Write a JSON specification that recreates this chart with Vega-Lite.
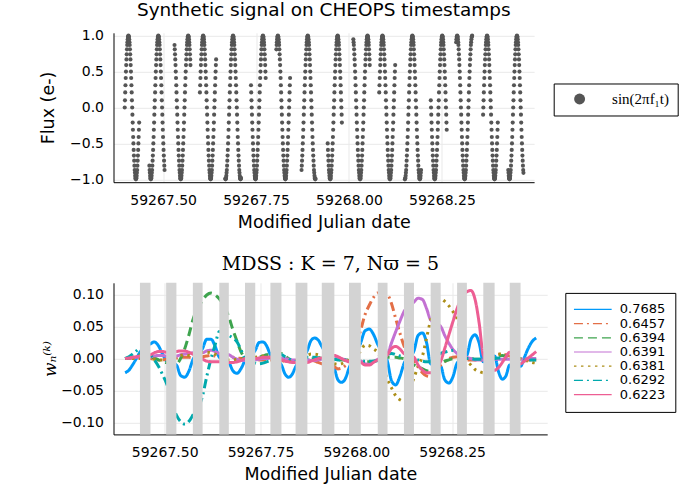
{
  "$schema": "https://vega.github.io/schema/vega-lite/v6.json",
  "padding": {"left": 39.5, "top": 0.8, "right": 5, "bottom": 5},
  "spacing": 24,
  "resolve": {"scale": {"color": "independent", "strokeDash": "independent", "x": "independent", "y": "independent"}, "legend": {"color": "independent", "strokeDash": "independent"}},
  "config": {
    "font": "DejaVu Sans",
    "view": {"stroke": null},
    "axis": {"grid": true, "gridColor": "#e9e9e9", "domainColor": "#000000", "ticks": false, "labelFontSize": 14, "labelColor": "#000000", "labelPadding": 10, "labelFlush": false, "titleFontSize": 17.5, "titleFontWeight": "normal", "titleColor": "#000000"},
    "axisX": {"titlePadding": 6, "labelPadding": 11},
    "title": {"fontWeight": "normal", "color": "#000000", "offset": 9}
  },
  "vconcat": [
    {
      "width": 420.6,
      "height": 149.4,
      "title": {"text": "Synthetic signal on CHEOPS timestamps", "fontSize": 18.5},
      "data": {"values": [
{"t":59267.39665,"y":0},{"t":59267.39732,"y":0.1},{"t":59267.39799,"y":0.21},{"t":59267.39866,"y":0.31},{"t":59267.39933,"y":0.41},{"t":59267.40000,"y":0.5},{"t":59267.40067,"y":0.59},{"t":59267.40134,"y":0.67},{"t":59267.40201,"y":0.74},{"t":59267.40268,"y":0.81},{"t":59267.40335,"y":0.87},{"t":59267.40402,"y":0.91},{"t":59267.40469,"y":0.95},{"t":59267.40536,"y":0.98},{"t":59267.40603,"y":0.99},{"t":59267.40670,"y":1},{"t":59267.40737,"y":0.99},{"t":59267.40804,"y":0.98},{"t":59267.40871,"y":0.95},{"t":59267.40938,"y":0.91},{"t":59267.41005,"y":0.87},{"t":59267.41072,"y":0.81},{"t":59267.41139,"y":0.74},{"t":59267.41206,"y":0.67},{"t":59267.41273,"y":0.59},{"t":59267.41340,"y":0.5},{"t":59267.41407,"y":0.41},{"t":59267.41474,"y":0.31},{"t":59267.41541,"y":0.21},{"t":59267.41608,"y":0.1},{"t":59267.41675,"y":0},{"t":59267.41742,"y":-0.1},{"t":59267.41809,"y":-0.21},{"t":59267.41876,"y":-0.31},{"t":59267.41943,"y":-0.41},{"t":59267.42010,"y":-0.5},{"t":59267.42077,"y":-0.59},{"t":59267.42144,"y":-0.67},{"t":59267.42211,"y":-0.74},{"t":59267.42278,"y":-0.81},{"t":59267.42345,"y":-0.87},{"t":59267.42412,"y":-0.91},{"t":59267.42479,"y":-0.95},{"t":59267.42546,"y":-0.98},{"t":59267.42613,"y":-0.99},{"t":59267.42680,"y":-1},{"t":59267.42747,"y":-0.99},{"t":59267.42814,"y":-0.98},{"t":59267.42881,"y":-0.95},{"t":59267.42948,"y":-0.91},{"t":59267.43015,"y":-0.87},{"t":59267.43082,"y":-0.81},{"t":59267.43149,"y":-0.74},{"t":59267.43216,"y":-0.67},{"t":59267.43283,"y":-0.59},{"t":59267.43350,"y":-0.5},{"t":59267.43417,"y":-0.41},{"t":59267.43484,"y":-0.31},{"t":59267.43551,"y":-0.21},
{"t":59267.46298,"y":-0.81},{"t":59267.46365,"y":-0.87},{"t":59267.46432,"y":-0.91},{"t":59267.46499,"y":-0.95},{"t":59267.46566,"y":-0.98},{"t":59267.46633,"y":-0.99},{"t":59267.46700,"y":-1},{"t":59267.46767,"y":-0.99},{"t":59267.46834,"y":-0.98},{"t":59267.46901,"y":-0.95},{"t":59267.46968,"y":-0.91},{"t":59267.47035,"y":-0.87},{"t":59267.47102,"y":-0.81},{"t":59267.47169,"y":-0.74},{"t":59267.47236,"y":-0.67},{"t":59267.47303,"y":-0.59},{"t":59267.47370,"y":-0.5},{"t":59267.47437,"y":-0.41},{"t":59267.47504,"y":-0.31},{"t":59267.47571,"y":-0.21},{"t":59267.47638,"y":-0.1},{"t":59267.47705,"y":0},{"t":59267.47772,"y":0.1},{"t":59267.47839,"y":0.21},{"t":59267.47906,"y":0.31},{"t":59267.47973,"y":0.41},{"t":59267.48040,"y":0.5},{"t":59267.48107,"y":0.59},{"t":59267.48174,"y":0.67},{"t":59267.48241,"y":0.74},{"t":59267.48308,"y":0.81},{"t":59267.48375,"y":0.87},{"t":59267.48442,"y":0.91},{"t":59267.48509,"y":0.95},{"t":59267.48576,"y":0.98},{"t":59267.48643,"y":0.99},{"t":59267.48710,"y":1},{"t":59267.48777,"y":0.99},{"t":59267.48844,"y":0.98},{"t":59267.48911,"y":0.95},{"t":59267.48978,"y":0.91},{"t":59267.49045,"y":0.87},{"t":59267.49112,"y":0.81},{"t":59267.49179,"y":0.74},{"t":59267.49246,"y":0.67},{"t":59267.49313,"y":0.59},{"t":59267.49380,"y":0.5},{"t":59267.49447,"y":0.41},{"t":59267.49514,"y":0.31},{"t":59267.49581,"y":0.21},{"t":59267.49648,"y":0.1},{"t":59267.49715,"y":0},{"t":59267.49782,"y":-0.1},{"t":59267.49849,"y":-0.21},{"t":59267.49916,"y":-0.31},{"t":59267.49983,"y":-0.41},{"t":59267.50050,"y":-0.5},{"t":59267.50117,"y":-0.59},{"t":59267.50184,"y":-0.67},{"t":59267.50251,"y":-0.74},{"t":59267.50318,"y":-0.81},{"t":59267.50385,"y":-0.87},
{"t":59267.53065,"y":0.87},{"t":59267.53132,"y":0.81},{"t":59267.53199,"y":0.74},{"t":59267.53266,"y":0.67},{"t":59267.53333,"y":0.59},{"t":59267.53400,"y":0.5},{"t":59267.53467,"y":0.41},{"t":59267.53534,"y":0.31},{"t":59267.53601,"y":0.21},{"t":59267.53668,"y":0.1},{"t":59267.53735,"y":0},{"t":59267.53802,"y":-0.1},{"t":59267.53869,"y":-0.21},{"t":59267.53936,"y":-0.31},{"t":59267.54003,"y":-0.41},{"t":59267.54070,"y":-0.5},{"t":59267.54137,"y":-0.59},{"t":59267.54204,"y":-0.67},{"t":59267.54271,"y":-0.74},{"t":59267.54338,"y":-0.81},{"t":59267.54405,"y":-0.87},{"t":59267.54472,"y":-0.91},{"t":59267.54539,"y":-0.95},{"t":59267.54606,"y":-0.98},{"t":59267.54673,"y":-0.99},{"t":59267.54740,"y":-1},{"t":59267.54807,"y":-0.99},{"t":59267.54874,"y":-0.98},{"t":59267.54941,"y":-0.95},{"t":59267.55008,"y":-0.91},{"t":59267.55075,"y":-0.87},{"t":59267.55142,"y":-0.81},{"t":59267.55209,"y":-0.74},{"t":59267.55276,"y":-0.67},{"t":59267.55343,"y":-0.59},{"t":59267.55410,"y":-0.5},{"t":59267.55477,"y":-0.41},{"t":59267.55544,"y":-0.31},{"t":59267.55611,"y":-0.21},{"t":59267.55678,"y":-0.1},{"t":59267.55745,"y":0},{"t":59267.55812,"y":0.1},{"t":59267.55879,"y":0.21},{"t":59267.55946,"y":0.31},{"t":59267.56013,"y":0.41},{"t":59267.56080,"y":0.5},{"t":59267.56147,"y":0.59},{"t":59267.56214,"y":0.67},{"t":59267.56281,"y":0.74},{"t":59267.56348,"y":0.81},{"t":59267.56415,"y":0.87},{"t":59267.56482,"y":0.91},{"t":59267.56549,"y":0.95},{"t":59267.56616,"y":0.98},{"t":59267.56683,"y":0.99},{"t":59267.56750,"y":1},{"t":59267.56817,"y":0.99},{"t":59267.56884,"y":0.98},{"t":59267.56951,"y":0.95},{"t":59267.57018,"y":0.91},{"t":59267.57085,"y":0.87},{"t":59267.57152,"y":0.81},{"t":59267.57219,"y":0.74},{"t":59267.57286,"y":0.67},{"t":59267.57353,"y":0.59},
{"t":59267.59899,"y":0.21},{"t":59267.59966,"y":0.31},{"t":59267.60033,"y":0.41},{"t":59267.60100,"y":0.5},{"t":59267.60167,"y":0.59},{"t":59267.60234,"y":0.67},{"t":59267.60301,"y":0.74},{"t":59267.60368,"y":0.81},{"t":59267.60435,"y":0.87},{"t":59267.60502,"y":0.91},{"t":59267.60569,"y":0.95},{"t":59267.60636,"y":0.98},{"t":59267.60703,"y":0.99},{"t":59267.60770,"y":1},{"t":59267.60837,"y":0.99},{"t":59267.60904,"y":0.98},{"t":59267.60971,"y":0.95},{"t":59267.61038,"y":0.91},{"t":59267.61105,"y":0.87},{"t":59267.61172,"y":0.81},{"t":59267.61239,"y":0.74},{"t":59267.61306,"y":0.67},{"t":59267.61373,"y":0.59},{"t":59267.61440,"y":0.5},{"t":59267.61507,"y":0.41},{"t":59267.61574,"y":0.31},{"t":59267.61641,"y":0.21},{"t":59267.61708,"y":0.1},{"t":59267.61775,"y":0},{"t":59267.61842,"y":-0.1},{"t":59267.61909,"y":-0.21},{"t":59267.61976,"y":-0.31},{"t":59267.62043,"y":-0.41},{"t":59267.62110,"y":-0.5},{"t":59267.62177,"y":-0.59},{"t":59267.62244,"y":-0.67},{"t":59267.62311,"y":-0.74},{"t":59267.62378,"y":-0.81},{"t":59267.62445,"y":-0.87},{"t":59267.62512,"y":-0.91},{"t":59267.62579,"y":-0.95},{"t":59267.62646,"y":-0.98},{"t":59267.62713,"y":-0.99},{"t":59267.62780,"y":-1},{"t":59267.62847,"y":-0.99},{"t":59267.62914,"y":-0.98},{"t":59267.62981,"y":-0.95},{"t":59267.63048,"y":-0.91},{"t":59267.63115,"y":-0.87},{"t":59267.63182,"y":-0.81},{"t":59267.63249,"y":-0.74},{"t":59267.63316,"y":-0.67},{"t":59267.63383,"y":-0.59},{"t":59267.63450,"y":-0.5},{"t":59267.63517,"y":-0.41},{"t":59267.63584,"y":-0.31},{"t":59267.63651,"y":-0.21},{"t":59267.63718,"y":-0.1},{"t":59267.63785,"y":0},{"t":59267.63852,"y":0.1},{"t":59267.63919,"y":0.21},{"t":59267.63986,"y":0.31},{"t":59267.64053,"y":0.41},{"t":59267.64120,"y":0.5},{"t":59267.64187,"y":0.59},{"t":59267.64254,"y":0.67},
{"t":59267.66733,"y":-0.99},{"t":59267.66800,"y":-1},{"t":59267.66867,"y":-0.99},{"t":59267.66934,"y":-0.98},{"t":59267.67001,"y":-0.95},{"t":59267.67068,"y":-0.91},{"t":59267.67135,"y":-0.87},{"t":59267.67202,"y":-0.81},{"t":59267.67269,"y":-0.74},{"t":59267.67336,"y":-0.67},{"t":59267.67403,"y":-0.59},{"t":59267.67470,"y":-0.5},{"t":59267.67537,"y":-0.41},{"t":59267.67604,"y":-0.31},{"t":59267.67671,"y":-0.21},{"t":59267.67738,"y":-0.1},{"t":59267.67805,"y":0},{"t":59267.67872,"y":0.1},{"t":59267.67939,"y":0.21},{"t":59267.68006,"y":0.31},{"t":59267.68073,"y":0.41},{"t":59267.68140,"y":0.5},{"t":59267.68207,"y":0.59},{"t":59267.68274,"y":0.67},{"t":59267.68341,"y":0.74},{"t":59267.68408,"y":0.81},{"t":59267.68475,"y":0.87},{"t":59267.68542,"y":0.91},{"t":59267.68609,"y":0.95},{"t":59267.68676,"y":0.98},{"t":59267.68743,"y":0.99},{"t":59267.68810,"y":1},{"t":59267.68877,"y":0.99},{"t":59267.68944,"y":0.98},{"t":59267.69011,"y":0.95},{"t":59267.69078,"y":0.91},{"t":59267.69145,"y":0.87},{"t":59267.69212,"y":0.81},{"t":59267.69279,"y":0.74},{"t":59267.69346,"y":0.67},{"t":59267.69413,"y":0.59},{"t":59267.69480,"y":0.5},{"t":59267.69547,"y":0.41},{"t":59267.69614,"y":0.31},{"t":59267.69681,"y":0.21},{"t":59267.69748,"y":0.1},{"t":59267.69815,"y":0},{"t":59267.69882,"y":-0.1},{"t":59267.69949,"y":-0.21},{"t":59267.70016,"y":-0.31},{"t":59267.70083,"y":-0.41},{"t":59267.70150,"y":-0.5},{"t":59267.70217,"y":-0.59},{"t":59267.70284,"y":-0.67},{"t":59267.70351,"y":-0.74},{"t":59267.70418,"y":-0.81},{"t":59267.70485,"y":-0.87},{"t":59267.70552,"y":-0.91},{"t":59267.70619,"y":-0.95},{"t":59267.70686,"y":-0.98},{"t":59267.70753,"y":-0.99},{"t":59267.70820,"y":-1},{"t":59267.70887,"y":-0.99},{"t":59267.70954,"y":-0.98},
{"t":59267.73634,"y":0.31},{"t":59267.73701,"y":0.21},{"t":59267.73768,"y":0.1},{"t":59267.73835,"y":0},{"t":59267.73902,"y":-0.1},{"t":59267.73969,"y":-0.21},{"t":59267.74036,"y":-0.31},{"t":59267.74103,"y":-0.41},{"t":59267.74170,"y":-0.5},{"t":59267.74237,"y":-0.59},{"t":59267.74304,"y":-0.67},{"t":59267.74371,"y":-0.74},{"t":59267.74438,"y":-0.81},{"t":59267.74505,"y":-0.87},{"t":59267.74572,"y":-0.91},{"t":59267.74639,"y":-0.95},{"t":59267.74706,"y":-0.98},{"t":59267.74773,"y":-0.99},{"t":59267.74840,"y":-1},{"t":59267.74907,"y":-0.99},{"t":59267.74974,"y":-0.98},{"t":59267.75041,"y":-0.95},{"t":59267.75108,"y":-0.91},{"t":59267.75175,"y":-0.87},{"t":59267.75242,"y":-0.81},{"t":59267.75309,"y":-0.74},{"t":59267.75376,"y":-0.67},{"t":59267.75443,"y":-0.59},{"t":59267.75510,"y":-0.5},{"t":59267.75577,"y":-0.41},{"t":59267.75644,"y":-0.31},{"t":59267.75711,"y":-0.21},{"t":59267.75778,"y":-0.1},{"t":59267.75845,"y":0},{"t":59267.75912,"y":0.1},{"t":59267.75979,"y":0.21},{"t":59267.76046,"y":0.31},{"t":59267.76113,"y":0.41},{"t":59267.76180,"y":0.5},{"t":59267.76247,"y":0.59},{"t":59267.76314,"y":0.67},{"t":59267.76381,"y":0.74},{"t":59267.76448,"y":0.81},{"t":59267.76515,"y":0.87},{"t":59267.76582,"y":0.91},{"t":59267.76649,"y":0.95},{"t":59267.76716,"y":0.98},{"t":59267.76783,"y":0.99},{"t":59267.76850,"y":1},{"t":59267.76917,"y":0.99},{"t":59267.76984,"y":0.98},{"t":59267.77051,"y":0.95},{"t":59267.77118,"y":0.91},{"t":59267.77185,"y":0.87},{"t":59267.77252,"y":0.81},{"t":59267.77319,"y":0.74},{"t":59267.77386,"y":0.67},{"t":59267.77453,"y":0.59},{"t":59267.77520,"y":0.5},{"t":59267.77587,"y":0.41},
{"t":59267.80468,"y":0.81},{"t":59267.80535,"y":0.87},{"t":59267.80602,"y":0.91},{"t":59267.80669,"y":0.95},{"t":59267.80736,"y":0.98},{"t":59267.80803,"y":0.99},{"t":59267.80870,"y":1},{"t":59267.80937,"y":0.99},{"t":59267.81004,"y":0.98},{"t":59267.81071,"y":0.95},{"t":59267.81138,"y":0.91},{"t":59267.81205,"y":0.87},{"t":59267.81272,"y":0.81},{"t":59267.81339,"y":0.74},{"t":59267.81406,"y":0.67},{"t":59267.81473,"y":0.59},{"t":59267.81540,"y":0.5},{"t":59267.81607,"y":0.41},{"t":59267.81674,"y":0.31},{"t":59267.81741,"y":0.21},{"t":59267.81808,"y":0.1},{"t":59267.81875,"y":0},{"t":59267.81942,"y":-0.1},{"t":59267.82009,"y":-0.21},{"t":59267.82076,"y":-0.31},{"t":59267.82143,"y":-0.41},{"t":59267.82210,"y":-0.5},{"t":59267.82277,"y":-0.59},{"t":59267.82344,"y":-0.67},{"t":59267.82411,"y":-0.74},{"t":59267.82478,"y":-0.81},{"t":59267.82545,"y":-0.87},{"t":59267.82612,"y":-0.91},{"t":59267.82679,"y":-0.95},{"t":59267.82746,"y":-0.98},{"t":59267.82813,"y":-0.99},{"t":59267.82880,"y":-1},{"t":59267.82947,"y":-0.99},{"t":59267.83014,"y":-0.98},{"t":59267.83081,"y":-0.95},{"t":59267.83148,"y":-0.91},{"t":59267.83215,"y":-0.87},{"t":59267.83282,"y":-0.81},{"t":59267.83349,"y":-0.74},{"t":59267.83416,"y":-0.67},{"t":59267.83483,"y":-0.59},{"t":59267.83550,"y":-0.5},{"t":59267.83617,"y":-0.41},{"t":59267.83684,"y":-0.31},{"t":59267.83751,"y":-0.21},{"t":59267.83818,"y":-0.1},{"t":59267.83885,"y":0},{"t":59267.83952,"y":0.1},{"t":59267.84019,"y":0.21},{"t":59267.84086,"y":0.31},{"t":59267.84153,"y":0.41},
{"t":59267.87235,"y":-0.87},{"t":59267.87302,"y":-0.81},{"t":59267.87369,"y":-0.74},{"t":59267.87436,"y":-0.67},{"t":59267.87503,"y":-0.59},{"t":59267.87570,"y":-0.5},{"t":59267.87637,"y":-0.41},{"t":59267.87704,"y":-0.31},{"t":59267.87771,"y":-0.21},{"t":59267.87838,"y":-0.1},{"t":59267.87905,"y":0},{"t":59267.87972,"y":0.1},{"t":59267.88039,"y":0.21},{"t":59267.88106,"y":0.31},{"t":59267.88173,"y":0.41},{"t":59267.88240,"y":0.5},{"t":59267.88307,"y":0.59},{"t":59267.88374,"y":0.67},{"t":59267.88441,"y":0.74},{"t":59267.88508,"y":0.81},{"t":59267.88575,"y":0.87},{"t":59267.88642,"y":0.91},{"t":59267.88709,"y":0.95},{"t":59267.88776,"y":0.98},{"t":59267.88843,"y":0.99},{"t":59267.88910,"y":1},{"t":59267.88977,"y":0.99},{"t":59267.89044,"y":0.98},{"t":59267.89111,"y":0.95},{"t":59267.89178,"y":0.91},{"t":59267.89245,"y":0.87},{"t":59267.89312,"y":0.81},{"t":59267.89379,"y":0.74},{"t":59267.89446,"y":0.67},{"t":59267.89513,"y":0.59},{"t":59267.89580,"y":0.5},{"t":59267.89647,"y":0.41},{"t":59267.89714,"y":0.31},{"t":59267.89781,"y":0.21},{"t":59267.89848,"y":0.1},{"t":59267.89915,"y":0},{"t":59267.89982,"y":-0.1},{"t":59267.90049,"y":-0.21},{"t":59267.90116,"y":-0.31},{"t":59267.90183,"y":-0.41},{"t":59267.90250,"y":-0.5},{"t":59267.90317,"y":-0.59},{"t":59267.90384,"y":-0.67},{"t":59267.90451,"y":-0.74},{"t":59267.90518,"y":-0.81},{"t":59267.90585,"y":-0.87},{"t":59267.90652,"y":-0.91},{"t":59267.90719,"y":-0.95},{"t":59267.90786,"y":-0.98},{"t":59267.90853,"y":-0.99},{"t":59267.90920,"y":-1},{"t":59267.90987,"y":-0.99},
{"t":59267.94270,"y":-0.5},{"t":59267.94337,"y":-0.59},{"t":59267.94404,"y":-0.67},{"t":59267.94471,"y":-0.74},{"t":59267.94538,"y":-0.81},{"t":59267.94605,"y":-0.87},{"t":59267.94672,"y":-0.91},{"t":59267.94739,"y":-0.95},{"t":59267.94806,"y":-0.98},{"t":59267.94873,"y":-0.99},{"t":59267.94940,"y":-1},{"t":59267.95007,"y":-0.99},{"t":59267.95074,"y":-0.98},{"t":59267.95141,"y":-0.95},{"t":59267.95208,"y":-0.91},{"t":59267.95275,"y":-0.87},{"t":59267.95342,"y":-0.81},{"t":59267.95409,"y":-0.74},{"t":59267.95476,"y":-0.67},{"t":59267.95543,"y":-0.59},{"t":59267.95610,"y":-0.5},{"t":59267.95677,"y":-0.41},{"t":59267.95744,"y":-0.31},{"t":59267.95811,"y":-0.21},{"t":59267.95878,"y":-0.1},{"t":59267.95945,"y":0},{"t":59267.96012,"y":0.1},{"t":59267.96079,"y":0.21},{"t":59267.96146,"y":0.31},{"t":59267.96213,"y":0.41},{"t":59267.96280,"y":0.5},{"t":59267.96347,"y":0.59},{"t":59267.96414,"y":0.67},{"t":59267.96481,"y":0.74},{"t":59267.96548,"y":0.81},{"t":59267.96615,"y":0.87},{"t":59267.96682,"y":0.91},{"t":59267.96749,"y":0.95},{"t":59267.96816,"y":0.98},{"t":59267.96883,"y":0.99},{"t":59267.96950,"y":1},{"t":59267.97017,"y":0.99},{"t":59267.97084,"y":0.98},{"t":59267.97151,"y":0.95},{"t":59267.97218,"y":0.91},{"t":59267.97285,"y":0.87},{"t":59267.97352,"y":0.81},{"t":59267.97419,"y":0.74},{"t":59267.97486,"y":0.67},{"t":59267.97553,"y":0.59},{"t":59267.97620,"y":0.5},{"t":59267.97687,"y":0.41},{"t":59267.97754,"y":0.31},{"t":59267.97821,"y":0.21},{"t":59267.97888,"y":0.1},{"t":59267.97955,"y":0},{"t":59267.98022,"y":-0.1},{"t":59267.98089,"y":-0.21},
{"t":59268.01171,"y":0.95},{"t":59268.01238,"y":0.91},{"t":59268.01305,"y":0.87},{"t":59268.01372,"y":0.81},{"t":59268.01439,"y":0.74},{"t":59268.01506,"y":0.67},{"t":59268.01573,"y":0.59},{"t":59268.01640,"y":0.5},{"t":59268.01707,"y":0.41},{"t":59268.01774,"y":0.31},{"t":59268.01841,"y":0.21},{"t":59268.01908,"y":0.1},{"t":59268.01975,"y":0},{"t":59268.02042,"y":-0.1},{"t":59268.02109,"y":-0.21},{"t":59268.02176,"y":-0.31},{"t":59268.02243,"y":-0.41},{"t":59268.02310,"y":-0.5},{"t":59268.02377,"y":-0.59},{"t":59268.02444,"y":-0.67},{"t":59268.02511,"y":-0.74},{"t":59268.02578,"y":-0.81},{"t":59268.02645,"y":-0.87},{"t":59268.02712,"y":-0.91},{"t":59268.02779,"y":-0.95},{"t":59268.02846,"y":-0.98},{"t":59268.02913,"y":-0.99},{"t":59268.02980,"y":-1},{"t":59268.03047,"y":-0.99},{"t":59268.03114,"y":-0.98},{"t":59268.03181,"y":-0.95},{"t":59268.03248,"y":-0.91},{"t":59268.03315,"y":-0.87},{"t":59268.03382,"y":-0.81},{"t":59268.03449,"y":-0.74},{"t":59268.03516,"y":-0.67},{"t":59268.03583,"y":-0.59},{"t":59268.03650,"y":-0.5},{"t":59268.03717,"y":-0.41},{"t":59268.03784,"y":-0.31},{"t":59268.03851,"y":-0.21},{"t":59268.03918,"y":-0.1},{"t":59268.03985,"y":0},{"t":59268.04052,"y":0.1},{"t":59268.04119,"y":0.21},{"t":59268.04186,"y":0.31},{"t":59268.04253,"y":0.41},{"t":59268.04320,"y":0.5},{"t":59268.04387,"y":0.59},{"t":59268.04454,"y":0.67},{"t":59268.04521,"y":0.74},{"t":59268.04588,"y":0.81},{"t":59268.04655,"y":0.87},{"t":59268.04722,"y":0.91},{"t":59268.04789,"y":0.95},{"t":59268.04856,"y":0.98},{"t":59268.04923,"y":0.99},{"t":59268.04990,"y":1},{"t":59268.05057,"y":0.99},{"t":59268.05124,"y":0.98},{"t":59268.05191,"y":0.95},{"t":59268.05258,"y":0.91},{"t":59268.05325,"y":0.87},{"t":59268.05392,"y":0.81},{"t":59268.05459,"y":0.74},{"t":59268.05526,"y":0.67},{"t":59268.05593,"y":0.59},
{"t":59268.08139,"y":0.21},{"t":59268.08206,"y":0.31},{"t":59268.08273,"y":0.41},{"t":59268.08340,"y":0.5},{"t":59268.08407,"y":0.59},{"t":59268.08474,"y":0.67},{"t":59268.08541,"y":0.74},{"t":59268.08608,"y":0.81},{"t":59268.08675,"y":0.87},{"t":59268.08742,"y":0.91},{"t":59268.08809,"y":0.95},{"t":59268.08876,"y":0.98},{"t":59268.08943,"y":0.99},{"t":59268.09010,"y":1},{"t":59268.09077,"y":0.99},{"t":59268.09144,"y":0.98},{"t":59268.09211,"y":0.95},{"t":59268.09278,"y":0.91},{"t":59268.09345,"y":0.87},{"t":59268.09412,"y":0.81},{"t":59268.09479,"y":0.74},{"t":59268.09546,"y":0.67},{"t":59268.09613,"y":0.59},{"t":59268.09680,"y":0.5},{"t":59268.09747,"y":0.41},{"t":59268.09814,"y":0.31},{"t":59268.09881,"y":0.21},{"t":59268.09948,"y":0.1},{"t":59268.10015,"y":0},{"t":59268.10082,"y":-0.1},{"t":59268.10149,"y":-0.21},{"t":59268.10216,"y":-0.31},{"t":59268.10283,"y":-0.41},{"t":59268.10350,"y":-0.5},{"t":59268.10417,"y":-0.59},{"t":59268.10484,"y":-0.67},{"t":59268.10551,"y":-0.74},{"t":59268.10618,"y":-0.81},{"t":59268.10685,"y":-0.87},{"t":59268.10752,"y":-0.91},{"t":59268.10819,"y":-0.95},{"t":59268.10886,"y":-0.98},{"t":59268.10953,"y":-0.99},{"t":59268.11020,"y":-1},{"t":59268.11087,"y":-0.99},{"t":59268.11154,"y":-0.98},{"t":59268.11221,"y":-0.95},{"t":59268.11288,"y":-0.91},{"t":59268.11355,"y":-0.87},{"t":59268.11422,"y":-0.81},{"t":59268.11489,"y":-0.74},{"t":59268.11556,"y":-0.67},{"t":59268.11623,"y":-0.59},{"t":59268.11690,"y":-0.5},{"t":59268.11757,"y":-0.41},{"t":59268.11824,"y":-0.31},{"t":59268.11891,"y":-0.21},{"t":59268.11958,"y":-0.1},{"t":59268.12025,"y":0},{"t":59268.12092,"y":0.1},{"t":59268.12159,"y":0.21},{"t":59268.12226,"y":0.31},{"t":59268.12293,"y":0.41},{"t":59268.12360,"y":0.5},{"t":59268.12427,"y":0.59},
{"t":59268.15040,"y":-1},{"t":59268.15107,"y":-0.99},{"t":59268.15174,"y":-0.98},{"t":59268.15241,"y":-0.95},{"t":59268.15308,"y":-0.91},{"t":59268.15375,"y":-0.87},{"t":59268.15442,"y":-0.81},{"t":59268.15509,"y":-0.74},{"t":59268.15576,"y":-0.67},{"t":59268.15643,"y":-0.59},{"t":59268.15710,"y":-0.5},{"t":59268.15777,"y":-0.41},{"t":59268.15844,"y":-0.31},{"t":59268.15911,"y":-0.21},{"t":59268.15978,"y":-0.1},{"t":59268.16045,"y":0},{"t":59268.16112,"y":0.1},{"t":59268.16179,"y":0.21},{"t":59268.16246,"y":0.31},{"t":59268.16313,"y":0.41},{"t":59268.16380,"y":0.5},{"t":59268.16447,"y":0.59},{"t":59268.16514,"y":0.67},{"t":59268.16581,"y":0.74},{"t":59268.16648,"y":0.81},{"t":59268.16715,"y":0.87},{"t":59268.16782,"y":0.91},{"t":59268.16849,"y":0.95},{"t":59268.16916,"y":0.98},{"t":59268.16983,"y":0.99},{"t":59268.17050,"y":1},{"t":59268.17117,"y":0.99},{"t":59268.17184,"y":0.98},{"t":59268.17251,"y":0.95},{"t":59268.17318,"y":0.91},{"t":59268.17385,"y":0.87},{"t":59268.17452,"y":0.81},{"t":59268.17519,"y":0.74},{"t":59268.17586,"y":0.67},{"t":59268.17653,"y":0.59},{"t":59268.17720,"y":0.5},{"t":59268.17787,"y":0.41},{"t":59268.17854,"y":0.31},{"t":59268.17921,"y":0.21},{"t":59268.17988,"y":0.1},{"t":59268.18055,"y":0},{"t":59268.18122,"y":-0.1},{"t":59268.18189,"y":-0.21},{"t":59268.18256,"y":-0.31},{"t":59268.18323,"y":-0.41},{"t":59268.18390,"y":-0.5},{"t":59268.18457,"y":-0.59},{"t":59268.18524,"y":-0.67},{"t":59268.18591,"y":-0.74},{"t":59268.18658,"y":-0.81},{"t":59268.18725,"y":-0.87},{"t":59268.18792,"y":-0.91},{"t":59268.18859,"y":-0.95},{"t":59268.18926,"y":-0.98},{"t":59268.18993,"y":-0.99},{"t":59268.19060,"y":-1},{"t":59268.19127,"y":-0.99},{"t":59268.19194,"y":-0.98},{"t":59268.19261,"y":-0.95},{"t":59268.19328,"y":-0.91},{"t":59268.19395,"y":-0.87},
{"t":59268.22008,"y":0.1},{"t":59268.22075,"y":0},{"t":59268.22142,"y":-0.1},{"t":59268.22209,"y":-0.21},{"t":59268.22276,"y":-0.31},{"t":59268.22343,"y":-0.41},{"t":59268.22410,"y":-0.5},{"t":59268.22477,"y":-0.59},{"t":59268.22544,"y":-0.67},{"t":59268.22611,"y":-0.74},{"t":59268.22678,"y":-0.81},{"t":59268.22745,"y":-0.87},{"t":59268.22812,"y":-0.91},{"t":59268.22879,"y":-0.95},{"t":59268.22946,"y":-0.98},{"t":59268.23013,"y":-0.99},{"t":59268.23080,"y":-1},{"t":59268.23147,"y":-0.99},{"t":59268.23214,"y":-0.98},{"t":59268.23281,"y":-0.95},{"t":59268.23348,"y":-0.91},{"t":59268.23415,"y":-0.87},{"t":59268.23482,"y":-0.81},{"t":59268.23549,"y":-0.74},{"t":59268.23616,"y":-0.67},{"t":59268.23683,"y":-0.59},{"t":59268.23750,"y":-0.5},{"t":59268.23817,"y":-0.41},{"t":59268.23884,"y":-0.31},{"t":59268.23951,"y":-0.21},{"t":59268.24018,"y":-0.1},{"t":59268.24085,"y":0},{"t":59268.24152,"y":0.1},{"t":59268.24219,"y":0.21},{"t":59268.24286,"y":0.31},{"t":59268.24353,"y":0.41},{"t":59268.24420,"y":0.5},{"t":59268.24487,"y":0.59},{"t":59268.24554,"y":0.67},{"t":59268.24621,"y":0.74},{"t":59268.24688,"y":0.81},{"t":59268.24755,"y":0.87},{"t":59268.24822,"y":0.91},{"t":59268.24889,"y":0.95},{"t":59268.24956,"y":0.98},{"t":59268.25023,"y":0.99},{"t":59268.25090,"y":1},{"t":59268.25157,"y":0.99},{"t":59268.25224,"y":0.98},{"t":59268.25291,"y":0.95},{"t":59268.25358,"y":0.91},{"t":59268.25425,"y":0.87},{"t":59268.25492,"y":0.81},{"t":59268.25559,"y":0.74},{"t":59268.25626,"y":0.67},{"t":59268.25693,"y":0.59},{"t":59268.25760,"y":0.5},{"t":59268.25827,"y":0.41},{"t":59268.25894,"y":0.31},{"t":59268.25961,"y":0.21},{"t":59268.26028,"y":0.1},{"t":59268.26095,"y":0},{"t":59268.26162,"y":-0.1},{"t":59268.26229,"y":-0.21},{"t":59268.26296,"y":-0.31},
{"t":59268.28842,"y":0.91},{"t":59268.28909,"y":0.95},{"t":59268.28976,"y":0.98},{"t":59268.29043,"y":0.99},{"t":59268.29110,"y":1},{"t":59268.29177,"y":0.99},{"t":59268.29244,"y":0.98},{"t":59268.29311,"y":0.95},{"t":59268.29378,"y":0.91},{"t":59268.29445,"y":0.87},{"t":59268.29512,"y":0.81},{"t":59268.29579,"y":0.74},{"t":59268.29646,"y":0.67},{"t":59268.29713,"y":0.59},{"t":59268.29780,"y":0.5},{"t":59268.29847,"y":0.41},{"t":59268.29914,"y":0.31},{"t":59268.29981,"y":0.21},{"t":59268.30048,"y":0.1},{"t":59268.30115,"y":0},{"t":59268.30182,"y":-0.1},{"t":59268.30249,"y":-0.21},{"t":59268.30316,"y":-0.31},{"t":59268.30383,"y":-0.41},{"t":59268.30450,"y":-0.5},{"t":59268.30517,"y":-0.59},{"t":59268.30584,"y":-0.67},{"t":59268.30651,"y":-0.74},{"t":59268.30718,"y":-0.81},{"t":59268.30785,"y":-0.87},{"t":59268.30852,"y":-0.91},{"t":59268.30919,"y":-0.95},{"t":59268.30986,"y":-0.98},{"t":59268.31053,"y":-0.99},{"t":59268.31120,"y":-1},{"t":59268.31187,"y":-0.99},{"t":59268.31254,"y":-0.98},{"t":59268.31321,"y":-0.95},{"t":59268.31388,"y":-0.91},{"t":59268.31455,"y":-0.87},{"t":59268.31522,"y":-0.81},{"t":59268.31589,"y":-0.74},{"t":59268.31656,"y":-0.67},{"t":59268.31723,"y":-0.59},{"t":59268.31790,"y":-0.5},{"t":59268.31857,"y":-0.41},{"t":59268.31924,"y":-0.31},{"t":59268.31991,"y":-0.21},{"t":59268.32058,"y":-0.1},{"t":59268.32125,"y":0},{"t":59268.32192,"y":0.1},{"t":59268.32259,"y":0.21},{"t":59268.32326,"y":0.31},{"t":59268.32393,"y":0.41},{"t":59268.32460,"y":0.5},{"t":59268.32527,"y":0.59},{"t":59268.32594,"y":0.67},{"t":59268.32661,"y":0.74},{"t":59268.32728,"y":0.81},{"t":59268.32795,"y":0.87},{"t":59268.32862,"y":0.91},{"t":59268.32929,"y":0.95},{"t":59268.32996,"y":0.98},{"t":59268.33063,"y":0.99},{"t":59268.33130,"y":1},
{"t":59268.36078,"y":-0.1},{"t":59268.36145,"y":0},{"t":59268.36212,"y":0.1},{"t":59268.36279,"y":0.21},{"t":59268.36346,"y":0.31},{"t":59268.36413,"y":0.41},{"t":59268.36480,"y":0.5},{"t":59268.36547,"y":0.59},{"t":59268.36614,"y":0.67},{"t":59268.36681,"y":0.74},{"t":59268.36748,"y":0.81},{"t":59268.36815,"y":0.87},{"t":59268.36882,"y":0.91},{"t":59268.36949,"y":0.95},{"t":59268.37016,"y":0.98},{"t":59268.37083,"y":0.99},{"t":59268.37150,"y":1},{"t":59268.37217,"y":0.99},{"t":59268.37284,"y":0.98},{"t":59268.37351,"y":0.95},{"t":59268.37418,"y":0.91},{"t":59268.37485,"y":0.87},{"t":59268.37552,"y":0.81},{"t":59268.37619,"y":0.74},{"t":59268.37686,"y":0.67},{"t":59268.37753,"y":0.59},{"t":59268.37820,"y":0.5},{"t":59268.37887,"y":0.41},{"t":59268.37954,"y":0.31},{"t":59268.38021,"y":0.21},{"t":59268.38088,"y":0.1},{"t":59268.38155,"y":0},{"t":59268.38222,"y":-0.1},{"t":59268.38289,"y":-0.21},{"t":59268.38356,"y":-0.31},{"t":59268.38423,"y":-0.41},{"t":59268.38490,"y":-0.5},{"t":59268.38557,"y":-0.59},{"t":59268.38624,"y":-0.67},{"t":59268.38691,"y":-0.74},{"t":59268.38758,"y":-0.81},{"t":59268.38825,"y":-0.87},{"t":59268.38892,"y":-0.91},{"t":59268.38959,"y":-0.95},{"t":59268.39026,"y":-0.98},{"t":59268.39093,"y":-0.99},{"t":59268.39160,"y":-1},{"t":59268.39227,"y":-0.99},{"t":59268.39294,"y":-0.98},{"t":59268.39361,"y":-0.95},{"t":59268.39428,"y":-0.91},{"t":59268.39495,"y":-0.87},{"t":59268.39562,"y":-0.81},{"t":59268.39629,"y":-0.74},{"t":59268.39696,"y":-0.67},{"t":59268.39763,"y":-0.59},{"t":59268.39830,"y":-0.5},{"t":59268.39897,"y":-0.41},{"t":59268.39964,"y":-0.31},{"t":59268.40031,"y":-0.21},
{"t":59268.42845,"y":-0.87},{"t":59268.42912,"y":-0.91},{"t":59268.42979,"y":-0.95},{"t":59268.43046,"y":-0.98},{"t":59268.43113,"y":-0.99},{"t":59268.43180,"y":-1},{"t":59268.43247,"y":-0.99},{"t":59268.43314,"y":-0.98},{"t":59268.43381,"y":-0.95},{"t":59268.43448,"y":-0.91},{"t":59268.43515,"y":-0.87},{"t":59268.43582,"y":-0.81},{"t":59268.43649,"y":-0.74},{"t":59268.43716,"y":-0.67},{"t":59268.43783,"y":-0.59},{"t":59268.43850,"y":-0.5},{"t":59268.43917,"y":-0.41},{"t":59268.43984,"y":-0.31},{"t":59268.44051,"y":-0.21},{"t":59268.44118,"y":-0.1},{"t":59268.44185,"y":0},{"t":59268.44252,"y":0.1},{"t":59268.44319,"y":0.21},{"t":59268.44386,"y":0.31},{"t":59268.44453,"y":0.41},{"t":59268.44520,"y":0.5},{"t":59268.44587,"y":0.59},{"t":59268.44654,"y":0.67},{"t":59268.44721,"y":0.74},{"t":59268.44788,"y":0.81},{"t":59268.44855,"y":0.87},{"t":59268.44922,"y":0.91},{"t":59268.44989,"y":0.95},{"t":59268.45056,"y":0.98},{"t":59268.45123,"y":0.99},{"t":59268.45190,"y":1},{"t":59268.45257,"y":0.99},{"t":59268.45324,"y":0.98},{"t":59268.45391,"y":0.95},{"t":59268.45458,"y":0.91},{"t":59268.45525,"y":0.87},{"t":59268.45592,"y":0.81},{"t":59268.45659,"y":0.74},{"t":59268.45726,"y":0.67},{"t":59268.45793,"y":0.59},{"t":59268.45860,"y":0.5},{"t":59268.45927,"y":0.41},{"t":59268.45994,"y":0.31},{"t":59268.46061,"y":0.21},{"t":59268.46128,"y":0.1},{"t":59268.46195,"y":0},{"t":59268.46262,"y":-0.1},{"t":59268.46329,"y":-0.21},{"t":59268.46396,"y":-0.31},{"t":59268.46463,"y":-0.41},{"t":59268.46530,"y":-0.5},{"t":59268.46597,"y":-0.59},{"t":59268.46664,"y":-0.67},{"t":59268.46731,"y":-0.74},{"t":59268.46798,"y":-0.81},{"t":59268.46865,"y":-0.87},{"t":59268.46932,"y":-0.91}
      ]},
      "mark": {"type": "point", "filled": true, "size": 17, "opacity": 1, "color": "#555555"},
      "encoding": {
        "x": {"field": "t", "type": "quantitative", "scale": {"domain": [59267.3665, 59268.498], "nice": false, "zero": false}, "axis": {"values": [59267.5, 59267.75, 59268, 59268.25], "format": ".2f", "title": "Modified Julian date"}},
        "y": {"field": "y", "type": "quantitative", "scale": {"domain": [-1.04, 1.04], "nice": false}, "axis": {"values": [-1, -0.5, 0, 0.5, 1], "format": ".1f", "title": "Flux (e-)", "titlePadding": 12}},
        "color": {"datum": "sin(2πf₁t)", "type": "nominal", "scale": {"range": ["#555555"]}, "legend": {"orient": "none", "legendX": 440.2, "legendY": 50.7, "title": null, "strokeColor": "#000000", "fillColor": "#ffffff", "padding": 8, "symbolType": "circle", "symbolSize": 120, "symbolStrokeWidth": 0, "symbolOffset": 10.4, "labelOffset": 25, "labelFont": "Liberation Serif", "labelFontSize": 15, "labelColor": "#000000"}}
      }
    },
    {
      "width": 433.7,
      "height": 151.6,
      "title": {"text": "MDSS : K = 7, Nϖ = 5", "font": "DejaVu Serif", "fontSize": 19},
      "layer": [
        {
          "data": {"values": [
{"t":59267.39665,"w7685":-0.022,"w6457":0,"w6394":0,"w6391":0,"w6381":0,"w6292":0,"w6223":0},
{"t":59267.40670,"w7685":-0.018,"w6457":0,"w6394":0.001,"w6391":0.001,"w6381":0,"w6292":0.003,"w6223":0.001},
{"t":59267.41608,"w7685":-0.010,"w6457":0.001,"w6394":0.002,"w6391":0.001,"w6381":0,"w6292":0.007,"w6223":0.002},
{"t":59267.42613,"w7685":0,"w6457":0.001,"w6394":0.004,"w6391":0.002,"w6381":0,"w6292":0.012,"w6223":0.003},
{"t":59267.43551,"w7685":0.010,"w6457":0.001,"w6394":0.006,"w6391":0.002,"w6381":0,"w6292":0.016,"w6223":0.004},
{"t":59267.46298,"w7685":0.023,"w6457":0,"w6394":0.003,"w6391":0.003,"w6381":0,"w6292":0.006,"w6223":0.006},
{"t":59267.47303,"w7685":0.026,"w6457":-0.001,"w6394":0.001,"w6391":0.004,"w6381":-0.001,"w6292":-0.002,"w6223":0.009},
{"t":59267.48375,"w7685":0.020,"w6457":-0.002,"w6394":-0.002,"w6391":0.005,"w6381":-0.002,"w6292":-0.012,"w6223":0.011},
{"t":59267.49380,"w7685":0.008,"w6457":-0.002,"w6394":-0.004,"w6391":0.005,"w6381":-0.002,"w6292":-0.024,"w6223":0.011},
{"t":59267.50385,"w7685":-0.003,"w6457":-0.001,"w6394":-0.006,"w6391":0.004,"w6381":-0.001,"w6292":-0.037,"w6223":0.010},
{"t":59267.53065,"w7685":-0.010,"w6457":0.001,"w6394":-0.008,"w6391":0.004,"w6381":0.003,"w6292":-0.088,"w6223":0.011},
{"t":59267.54137,"w7685":-0.026,"w6457":0.002,"w6394":0,"w6391":0.006,"w6381":0.005,"w6292":-0.098,"w6223":0.012},
{"t":59267.55209,"w7685":-0.029,"w6457":0.002,"w6394":0.015,"w6391":0.007,"w6381":0.006,"w6292":-0.102,"w6223":0.012},
{"t":59267.56281,"w7685":-0.020,"w6457":0.002,"w6394":0.036,"w6391":0.008,"w6381":0.005,"w6292":-0.098,"w6223":0.010},
{"t":59267.57353,"w7685":-0.002,"w6457":0.001,"w6394":0.060,"w6391":0.009,"w6381":0.004,"w6292":-0.088,"w6223":0.007},
{"t":59267.59899,"w7685":0.016,"w6457":0.003,"w6394":0.091,"w6391":0.009,"w6381":0.010,"w6292":-0.058,"w6223":-0.001},
{"t":59267.60971,"w7685":0.030,"w6457":0.004,"w6394":0.099,"w6391":0.012,"w6381":0.010,"w6292":-0.028,"w6223":-0.004},
{"t":59267.62110,"w7685":0.030,"w6457":0.005,"w6394":0.102,"w6391":0.013,"w6381":0.009,"w6292":0,"w6223":-0.005},
{"t":59267.63182,"w7685":0.019,"w6457":0.004,"w6394":0.099,"w6391":0.011,"w6381":0.007,"w6292":0.022,"w6223":-0.005},
{"t":59267.64254,"w7685":0.002,"w6457":0.003,"w6394":0.093,"w6391":0.008,"w6381":0.005,"w6292":0.042,"w6223":-0.005},
{"t":59267.66733,"w7685":-0.006,"w6457":0.003,"w6394":0.065,"w6391":0.006,"w6381":-0.002,"w6292":0.036,"w6223":-0.006},
{"t":59267.67805,"w7685":-0.019,"w6457":0.002,"w6394":0.045,"w6391":0.002,"w6381":-0.002,"w6292":0.032,"w6223":-0.006},
{"t":59267.68877,"w7685":-0.023,"w6457":0.001,"w6394":0.027,"w6391":-0.001,"w6381":-0.001,"w6292":0.026,"w6223":-0.005},
{"t":59267.69882,"w7685":-0.016,"w6457":0,"w6394":0.011,"w6391":-0.003,"w6381":0,"w6292":0.014,"w6223":-0.003},
{"t":59267.70954,"w7685":-0.003,"w6457":-0.001,"w6394":0.002,"w6391":-0.003,"w6381":0,"w6292":0,"w6223":0},
{"t":59267.73634,"w7685":0.013,"w6457":-0.001,"w6394":0,"w6391":-0.002,"w6381":0.002,"w6292":-0.007,"w6223":0},
{"t":59267.74639,"w7685":0.025,"w6457":-0.002,"w6394":0.002,"w6391":-0.001,"w6381":0.003,"w6292":-0.008,"w6223":0.001},
{"t":59267.75644,"w7685":0.026,"w6457":-0.002,"w6394":0.004,"w6391":0,"w6381":0.004,"w6292":-0.007,"w6223":0.002},
{"t":59267.76582,"w7685":0.020,"w6457":-0.002,"w6394":0.006,"w6391":0,"w6381":0.003,"w6292":-0.005,"w6223":0.002},
{"t":59267.77587,"w7685":0.006,"w6457":-0.002,"w6394":0.007,"w6391":0.001,"w6381":0.002,"w6292":-0.003,"w6223":0.002},
{"t":59267.80468,"w7685":-0.010,"w6457":-0.002,"w6394":0.008,"w6391":0.001,"w6381":-0.003,"w6292":0.006,"w6223":-0.002},
{"t":59267.81406,"w7685":-0.024,"w6457":-0.003,"w6394":0.004,"w6391":0,"w6381":-0.004,"w6292":0.003,"w6223":-0.004},
{"t":59267.82344,"w7685":-0.029,"w6457":-0.004,"w6394":0,"w6391":-0.001,"w6381":-0.005,"w6292":0,"w6223":-0.005},
{"t":59267.83215,"w7685":-0.025,"w6457":-0.004,"w6394":-0.004,"w6391":-0.002,"w6381":-0.004,"w6292":-0.003,"w6223":-0.006},
{"t":59267.84153,"w7685":-0.013,"w6457":-0.003,"w6394":-0.007,"w6391":-0.002,"w6381":-0.003,"w6292":-0.005,"w6223":-0.006},
{"t":59267.87235,"w7685":0.013,"w6457":-0.002,"w6394":-0.003,"w6391":-0.002,"w6381":0.005,"w6292":0.002,"w6223":-0.006},
{"t":59267.88173,"w7685":0.028,"w6457":-0.003,"w6394":-0.001,"w6391":-0.003,"w6381":0.007,"w6292":0.002,"w6223":-0.004},
{"t":59267.89111,"w7685":0.032,"w6457":-0.004,"w6394":0,"w6391":-0.003,"w6381":0.007,"w6292":0.002,"w6223":-0.002},
{"t":59267.90049,"w7685":0.029,"w6457":-0.006,"w6394":0.001,"w6391":-0.002,"w6381":0.006,"w6292":0.001,"w6223":0},
{"t":59267.90987,"w7685":0.019,"w6457":-0.008,"w6394":0.002,"w6391":-0.001,"w6381":0.004,"w6292":0,"w6223":0.001},
{"t":59267.94270,"w7685":-0.015,"w6457":-0.013,"w6394":-0.002,"w6391":0.004,"w6381":-0.008,"w6292":-0.001,"w6223":0.005},
{"t":59267.95208,"w7685":-0.033,"w6457":-0.016,"w6394":-0.002,"w6391":0.002,"w6381":-0.009,"w6292":-0.002,"w6223":0.003},
{"t":59267.96146,"w7685":-0.037,"w6457":-0.015,"w6394":-0.002,"w6391":0,"w6381":-0.008,"w6292":-0.002,"w6223":0},
{"t":59267.97151,"w7685":-0.031,"w6457":-0.011,"w6394":-0.002,"w6391":-0.002,"w6381":-0.005,"w6292":-0.002,"w6223":-0.003},
{"t":59267.98089,"w7685":-0.015,"w6457":-0.007,"w6394":-0.002,"w6391":-0.004,"w6381":-0.003,"w6292":-0.002,"w6223":-0.005},
{"t":59268.01171,"w7685":0.025,"w6457":0.045,"w6394":-0.004,"w6391":-0.004,"w6381":0.012,"w6292":-0.003,"w6223":-0.006},
{"t":59268.02243,"w7685":0.043,"w6457":0.068,"w6394":-0.005,"w6391":-0.008,"w6381":0.021,"w6292":-0.004,"w6223":-0.010},
{"t":59268.03382,"w7685":0.046,"w6457":0.083,"w6394":-0.005,"w6391":-0.009,"w6381":0.020,"w6292":-0.004,"w6223":-0.010},
{"t":59268.04454,"w7685":0.038,"w6457":0.095,"w6394":-0.004,"w6391":-0.005,"w6381":0.015,"w6292":-0.004,"w6223":-0.006},
{"t":59268.05593,"w7685":0.022,"w6457":0.102,"w6394":-0.003,"w6391":-0.001,"w6381":0.010,"w6292":-0.003,"w6223":-0.002},
{"t":59268.08139,"w7685":-0.005,"w6457":0.099,"w6394":0.002,"w6391":0.008,"w6381":-0.033,"w6292":0.007,"w6223":0.006},
{"t":59268.09211,"w7685":-0.035,"w6457":0.085,"w6394":0.002,"w6391":0.025,"w6381":-0.046,"w6292":0.008,"w6223":0.016},
{"t":59268.10283,"w7685":-0.041,"w6457":0.062,"w6394":0.002,"w6391":0.042,"w6381":-0.058,"w6292":0.006,"w6223":0.019},
{"t":59268.11355,"w7685":-0.028,"w6457":0.040,"w6394":0.001,"w6391":0.058,"w6381":-0.064,"w6292":0.004,"w6223":0.015},
{"t":59268.12427,"w7685":-0.008,"w6457":0.020,"w6394":0,"w6391":0.073,"w6381":-0.066,"w6292":0.002,"w6223":0.008},
{"t":59268.15040,"w7685":0.012,"w6457":-0.002,"w6394":-0.010,"w6391":0.088,"w6381":-0.030,"w6292":0,"w6223":0.002},
{"t":59268.16112,"w7685":0.036,"w6457":-0.012,"w6394":-0.013,"w6391":0.094,"w6381":-0.012,"w6292":-0.002,"w6223":-0.010},
{"t":59268.17251,"w7685":0.040,"w6457":-0.022,"w6394":-0.016,"w6391":0.092,"w6381":0.004,"w6292":-0.004,"w6223":-0.018},
{"t":59268.18323,"w7685":0.025,"w6457":-0.027,"w6394":-0.019,"w6391":0.078,"w6381":0.032,"w6292":-0.005,"w6223":-0.022},
{"t":59268.19395,"w7685":-0.008,"w6457":-0.028,"w6394":-0.020,"w6391":0.060,"w6381":0.060,"w6292":-0.005,"w6223":-0.022},
{"t":59268.22008,"w7685":-0.012,"w6457":-0.010,"w6394":-0.008,"w6391":0.050,"w6381":0.093,"w6292":0.008,"w6223":-0.004},
{"t":59268.23080,"w7685":-0.033,"w6457":-0.005,"w6394":-0.004,"w6391":0.036,"w6381":0.089,"w6292":0.010,"w6223":0.016},
{"t":59268.24152,"w7685":-0.038,"w6457":0,"w6394":-0.002,"w6391":0.024,"w6381":0.082,"w6292":0.012,"w6223":0.037},
{"t":59268.25224,"w7685":-0.028,"w6457":0.002,"w6394":0,"w6391":0.014,"w6381":0.073,"w6292":0.013,"w6223":0.058},
{"t":59268.26296,"w7685":-0.007,"w6457":0.003,"w6394":0,"w6391":0.008,"w6381":0.062,"w6292":0.014,"w6223":0.078},
{"t":59268.28842,"w7685":0.005,"w6457":-0.002,"w6394":0,"w6391":0.002,"w6381":-0.003,"w6292":0,"w6223":0.104},
{"t":59268.29914,"w7685":0.030,"w6457":-0.002,"w6394":0,"w6391":0,"w6381":-0.010,"w6292":0,"w6223":0.106},
{"t":59268.30986,"w7685":0.037,"w6457":-0.002,"w6394":-0.001,"w6391":-0.002,"w6381":-0.017,"w6292":-0.001,"w6223":0.092},
{"t":59268.32058,"w7685":0.024,"w6457":-0.002,"w6394":-0.001,"w6391":-0.002,"w6381":-0.020,"w6292":-0.001,"w6223":0.055},
{"t":59268.33130,"w7685":-0.005,"w6457":-0.002,"w6394":0,"w6391":-0.002,"w6381":-0.022,"w6292":-0.001,"w6223":0.005},
{"t":59268.36078,"w7685":0.004,"w6457":0.002,"w6394":0.002,"w6391":-0.001,"w6381":0.004,"w6292":0,"w6223":-0.018},
{"t":59268.37083,"w7685":-0.020,"w6457":0.006,"w6394":0.004,"w6391":-0.001,"w6381":0.007,"w6292":0.001,"w6223":-0.014},
{"t":59268.38088,"w7685":-0.032,"w6457":0.007,"w6394":0.005,"w6391":-0.001,"w6381":0.007,"w6292":0.001,"w6223":-0.006},
{"t":59268.39026,"w7685":-0.027,"w6457":0.006,"w6394":0.004,"w6391":-0.001,"w6381":0.005,"w6292":0,"w6223":0.003},
{"t":59268.40031,"w7685":-0.010,"w6457":0.004,"w6394":0.002,"w6391":-0.001,"w6381":0.003,"w6292":0,"w6223":0.010},
{"t":59268.42845,"w7685":-0.012,"w6457":-0.001,"w6394":0,"w6391":-0.001,"w6381":-0.001,"w6292":-0.001,"w6223":-0.008},
{"t":59268.43850,"w7685":0.002,"w6457":-0.002,"w6394":0,"w6391":-0.001,"w6381":-0.003,"w6292":-0.002,"w6223":-0.004},
{"t":59268.44855,"w7685":0.016,"w6457":-0.002,"w6394":0,"w6391":0,"w6381":-0.004,"w6292":-0.002,"w6223":0.001},
{"t":59268.45927,"w7685":0.027,"w6457":-0.002,"w6394":0,"w6391":0,"w6381":-0.006,"w6292":-0.002,"w6223":0.006},
{"t":59268.46932,"w7685":0.032,"w6457":-0.002,"w6394":0,"w6391":0,"w6381":-0.007,"w6292":-0.002,"w6223":0.011}
          ]},
          "transform": [{"fold": ["w7685", "w6457", "w6394", "w6391", "w6381", "w6292", "w6223"], "as": ["s", "w"]}],
          "mark": {"type": "line", "strokeWidth": 3, "interpolate": "monotone"},
          "encoding": {
            "x": {"field": "t", "type": "quantitative", "scale": {"domain": [59267.3665, 59268.498], "nice": false, "zero": false}, "axis": {"values": [59267.5, 59267.75, 59268, 59268.25], "format": ".2f", "title": "Modified Julian date"}},
            "y": {"field": "w", "type": "quantitative", "scale": {"domain": [-0.118, 0.118], "nice": false}, "axis": {"values": [-0.1, -0.05, 0, 0.05, 0.1], "format": ".2f", "title": "wₙ⁽ᵏ⁾", "titleFont": "DejaVu Serif", "titleFontStyle": "italic", "titleFontSize": 17, "titlePadding": 1}},
            "color": {"field": "s", "type": "nominal", "scale": {"domain": ["w7685", "w6457", "w6394", "w6391", "w6381", "w6292", "w6223"], "range": ["#009AFA", "#E36F47", "#3EA44E", "#C371D2", "#AC8E18", "#00A9AD", "#ED5E93"]}, "legend": {"orient": "none", "legendX": 451.8, "legendY": 10.1, "title": null, "strokeColor": "#000000", "fillColor": "#ffffff", "padding": 9.5, "symbolType": "M-3,0H3", "symbolSize": 158, "symbolStrokeWidth": 1.2, "symbolOffset": 11, "labelOffset": 20, "labelFontSize": 13, "labelColor": "#000000", "rowPadding": 0.2, "labelExpr": "replace(datum.label, 'w', '0.')"}},
            "strokeDash": {"field": "s", "type": "nominal", "scale": {"domain": ["w7685", "w6457", "w6394", "w6391", "w6381", "w6292", "w6223"], "range": [[1, 0], [9, 4, 2, 4], [9, 5], [1, 0], [2.5, 4.5], [9, 4, 2, 4], [1, 0]]}, "legend": {"orient": "none", "legendX": 451.8, "legendY": 10.1, "title": null, "strokeColor": "#000000", "fillColor": "#ffffff", "padding": 9.5, "symbolType": "M-3,0H3", "symbolSize": 158, "symbolStrokeWidth": 1.2, "symbolOffset": 11, "labelOffset": 20, "labelFontSize": 13, "labelColor": "#000000", "rowPadding": 0.2, "labelExpr": "replace(datum.label, 'w', '0.')"}}
          }
        },
        {
          "data": {"values": [
{"t0":59267.43551,"t1":59267.46298},{"t0":59267.50385,"t1":59267.53065},{"t0":59267.57353,"t1":59267.59899},{"t0":59267.64254,"t1":59267.66733},{"t0":59267.70954,"t1":59267.73634},{"t0":59267.77587,"t1":59267.80468},{"t0":59267.84153,"t1":59267.87235},{"t0":59267.90987,"t1":59267.94270},{"t0":59267.98089,"t1":59268.01171},{"t0":59268.05593,"t1":59268.08139},{"t0":59268.12427,"t1":59268.15040},{"t0":59268.19395,"t1":59268.22008},{"t0":59268.26296,"t1":59268.28842},{"t0":59268.33130,"t1":59268.36078},{"t0":59268.40031,"t1":59268.42845}
          ]},
          "mark": {"type": "rect", "color": "#d3d3d3"},
          "encoding": {
            "x": {"field": "t0", "type": "quantitative"},
            "x2": {"field": "t1"}
          }
        }
      ]
    }
  ]
}
